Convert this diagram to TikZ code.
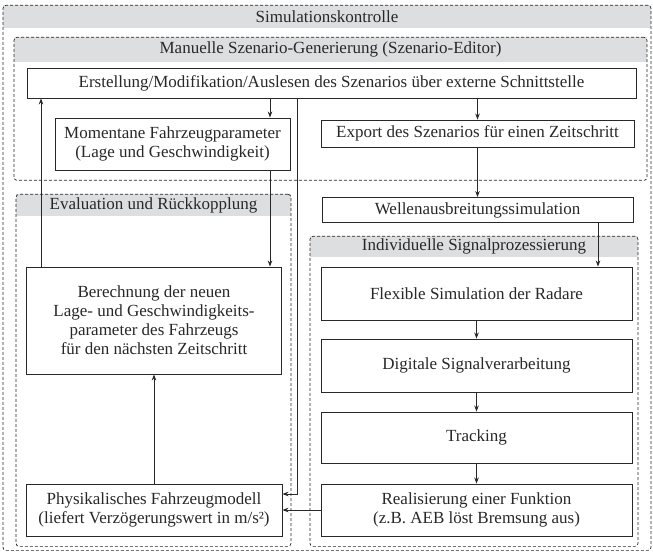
\documentclass[tikz,border=0pt]{standalone}
\usepackage{fontspec}
\setmainfont{Liberation Serif}
\usetikzlibrary{arrows.meta, positioning, calc}
\definecolor{DG}{RGB}{40,40,40}
\definecolor{HG}{RGB}{221,222,224}

\begin{document}
\begin{tikzpicture}[x=1pt, y=-1pt,
  every node/.style={font=\fontsize{17}{19}\selectfont, text=DG},
  box/.style={draw=DG, line width=0.9pt, fill=white, align=center,
              inner sep=0pt},
  grp/.style={draw=DG, dash pattern=on 3pt off 2pt, line width=0.7pt,
              rounded corners=3pt, inner sep=0pt, anchor=north},
  hdr/.style={fill=HG, inner sep=0pt, anchor=north},
  earr/.style={draw=DG, line width=0.8pt, -{Stealth[length=6pt,width=4.5pt]}}
]
\useasboundingbox (0,0) rectangle (653,553);

% Groups with grey headers
\node[hdr, minimum width=648pt, minimum height=23pt] (hSIM) at (327,5) {Simulationskontrolle};
\node[grp, minimum width=648pt, minimum height=545pt] (SIM) at (327,5) {};
\node[hdr, minimum width=633pt, minimum height=25pt] (hMAN) at (330.5,37) {Manuelle Szenario-Generierung (Szenario-Editor)};
\node[grp, minimum width=633pt, minimum height=143pt] (MAN) at (330.5,37) {};
\node[hdr, minimum width=275pt, minimum height=22pt] (hEVA) at (153.5,194) {Evaluation und Rückkopplung};
\node[grp, minimum width=275pt, minimum height=352pt] (EVA) at (153.5,194) {};
\node[hdr, minimum width=328pt, minimum height=21pt] (hIND) at (474,236) {Individuelle Signalprozessierung};
\node[grp, minimum width=328pt, minimum height=310pt] (IND) at (474,236) {};

% Scenario editor
\node[box, minimum width=609pt, minimum height=30pt] (ERS) at (331.5,83)
  {Erstellung/Modifikation/Auslesen des Szenarios über externe Schnittstelle};
\node[box, minimum width=235pt, minimum height=52pt] (MOM) at (172.5,144)
  {Momentane Fahrzeugparameter\\(Lage und Geschwindigkeit)};
\node[box, minimum width=313pt, minimum height=27pt] (EXP) at (477.5,133.5)
  {Export des Szenarios für einen Zeitschritt};
\node[box, minimum width=311pt, minimum height=25pt] (WEL) at (477.5,210)
  {Wellenausbreitungssimulation};

% Evaluation
\node[box, minimum width=255pt, minimum height=107pt] (BER) at (154,320.5)
  {Berechnung der neuen\\Lage- und Geschwindigkeits-\\parameter des Fahrzeugs\\für den nächsten Zeitschritt};
\node[box, minimum width=256pt, minimum height=52pt] (PHY) at (154,510)
  {Physikalisches Fahrzeugmodell\\(liefert Verzögerungswert in m/s²)};

% Signal processing
\node[box, minimum width=311pt, minimum height=53pt] (FLX) at (476.5,293.5) {Flexible Simulation der Radare};
\node[box, minimum width=311pt, minimum height=53pt] (DSV) at (476.5,365.5) {Digitale Signalverarbeitung};
\node[box, minimum width=311pt, minimum height=51pt] (TRK) at (476.5,437.5) {Tracking};
\node[box, minimum width=311pt, minimum height=52pt] (REA) at (476.5,510)
  {Realisierung einer Funktion\\(z.B. AEB löst Bremsung aus)};

% Connectors
\coordinate (xA) at (270,0);
\coordinate (xB) at (41,0);
\coordinate (xC) at (297,494);
\coordinate (xD) at (598,0);
\draw[earr] (ERS.south -| xA) -- (MOM.north -| xA);
\draw[earr] (MOM.south -| xA) -- (BER.north -| xA);
\draw[earr] (BER.north -| xB) -- (ERS.south -| xB);
\draw[earr] (ERS.south -| xC) -- (xC) -- (xC -| PHY.east);
\draw[earr] (ERS.south -| EXP.north) -- (EXP.north);
\draw[earr] (EXP) -- (WEL);
\draw[earr] (WEL.south -| xD) -- (FLX.north -| xD);
\foreach \a/\b in {FLX/DSV,DSV/TRK,TRK/REA} \draw[earr] (\a) -- (\b);
\draw[earr] (REA) -- (PHY);
\draw[earr] (PHY) -- (BER);
\end{tikzpicture}
\end{document}
